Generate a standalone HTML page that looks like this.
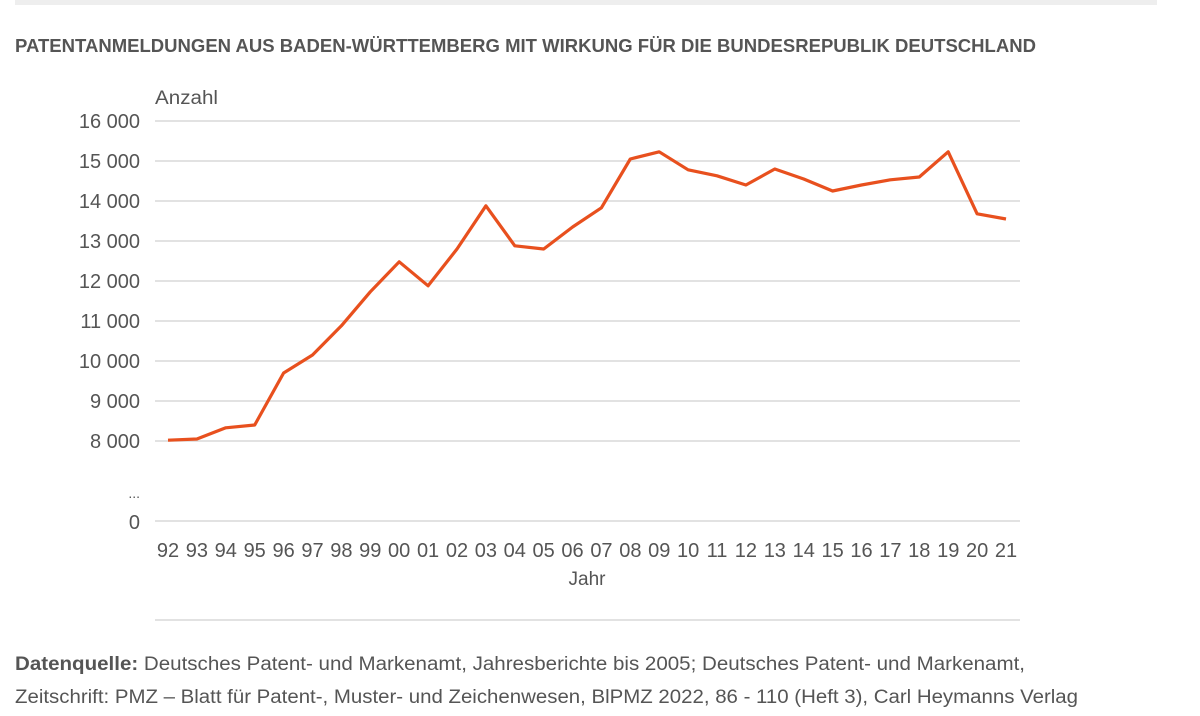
<!DOCTYPE html>
<html><head><meta charset="utf-8"><style>
body{margin:0;background:#fff;font-family:"Liberation Sans",sans-serif;}
svg text{font-family:"Liberation Sans",sans-serif;}
</style></head><body>
<svg width="1200" height="711" xmlns="http://www.w3.org/2000/svg">
<rect x="15" y="0" width="1142" height="5" fill="#eeeeee"/>
<text x="15" y="52" font-size="18" font-weight="bold" fill="#555" textLength="1021" lengthAdjust="spacingAndGlyphs">PATENTANMELDUNGEN AUS BADEN-WÜRTTEMBERG MIT WIRKUNG FÜR DIE BUNDESREPUBLIK DEUTSCHLAND</text>
<text x="155" y="104" font-size="19" fill="#555" textLength="63" lengthAdjust="spacingAndGlyphs">Anzahl</text>
<g id="grid"></g>
<g id="ylabels"></g>
<g id="xlabels"></g>
<text x="140" y="498" font-size="14" fill="#555" text-anchor="end">...</text>
<text x="140" y="529" font-size="20" fill="#555" text-anchor="end">0</text>
<line x1="155" y1="521" x2="1020" y2="521" stroke="#d9d9d9" stroke-width="1.5"/>
<text x="587" y="585" font-size="19" fill="#555" text-anchor="middle">Jahr</text>
<line x1="155" y1="620" x2="1020" y2="620" stroke="#d9d9d9" stroke-width="1.5"/>
<path id="line" fill="none" stroke="#e8501e" stroke-width="3.2" stroke-linejoin="round"/>
<text x="15" y="670" font-size="19" fill="#555" textLength="1010" lengthAdjust="spacingAndGlyphs"><tspan font-weight="bold">Datenquelle:</tspan> Deutsches Patent- und Markenamt, Jahresberichte bis 2005; Deutsches Patent- und Markenamt,</text>
<text x="15" y="703" font-size="19" fill="#555" textLength="1063" lengthAdjust="spacingAndGlyphs">Zeitschrift: PMZ – Blatt für Patent-, Muster- und Zeichenwesen, BlPMZ 2022, 86 - 110 (Heft 3), Carl Heymanns Verlag</text>
</svg>
<script>
const years=["92","93","94","95","96","97","98","99","00","01","02","03","04","05","06","07","08","09","10","11","12","13","14","15","16","17","18","19","20","21"];
const values=[8020,8050,8330,8400,9700,10150,10880,11730,12480,11880,12800,13880,12880,12800,13350,13830,15050,15230,14780,14630,14400,14800,14550,14250,14400,14530,14600,15230,13680,13550];
const yTicks=[8000,9000,10000,11000,12000,13000,14000,15000,16000];
const yTickLabels=["8 000","9 000","10 000","11 000","12 000","13 000","14 000","15 000","16 000"];
const NS="http://www.w3.org/2000/svg";
function y(v){return 441-(v-8000)*0.04;}
function x(i){return 168+i*(1006-168)/(years.length-1);}
const grid=document.getElementById('grid'),yl=document.getElementById('ylabels'),xl=document.getElementById('xlabels');
yTicks.forEach((t,i)=>{
 const l=document.createElementNS(NS,'line');
 l.setAttribute('x1',155);l.setAttribute('x2',1020);l.setAttribute('y1',y(t));l.setAttribute('y2',y(t));
 l.setAttribute('stroke','#d9d9d9');l.setAttribute('stroke-width','1.5');
 
 
 grid.appendChild(l);
 const tx=document.createElementNS(NS,'text');
 tx.setAttribute('x',140);tx.setAttribute('y',y(t)+7);tx.setAttribute('text-anchor','end');
 tx.setAttribute('font-size','20');tx.setAttribute('fill','#555');tx.textContent=yTickLabels[i];
 
 
 yl.appendChild(tx);
});
years.forEach((yr,i)=>{
 const tx=document.createElementNS(NS,'text');
 tx.setAttribute('x',x(i));tx.setAttribute('y',557);tx.setAttribute('text-anchor','middle');
 tx.setAttribute('font-size','20');tx.setAttribute('fill','#555');tx.textContent=yr;
 
 
 xl.appendChild(tx);
});
document.getElementById('line').setAttribute('d',values.map((v,i)=>(i?'L':'M')+x(i).toFixed(1)+' '+y(v).toFixed(1)).join(' '));
</script>
</body></html>
